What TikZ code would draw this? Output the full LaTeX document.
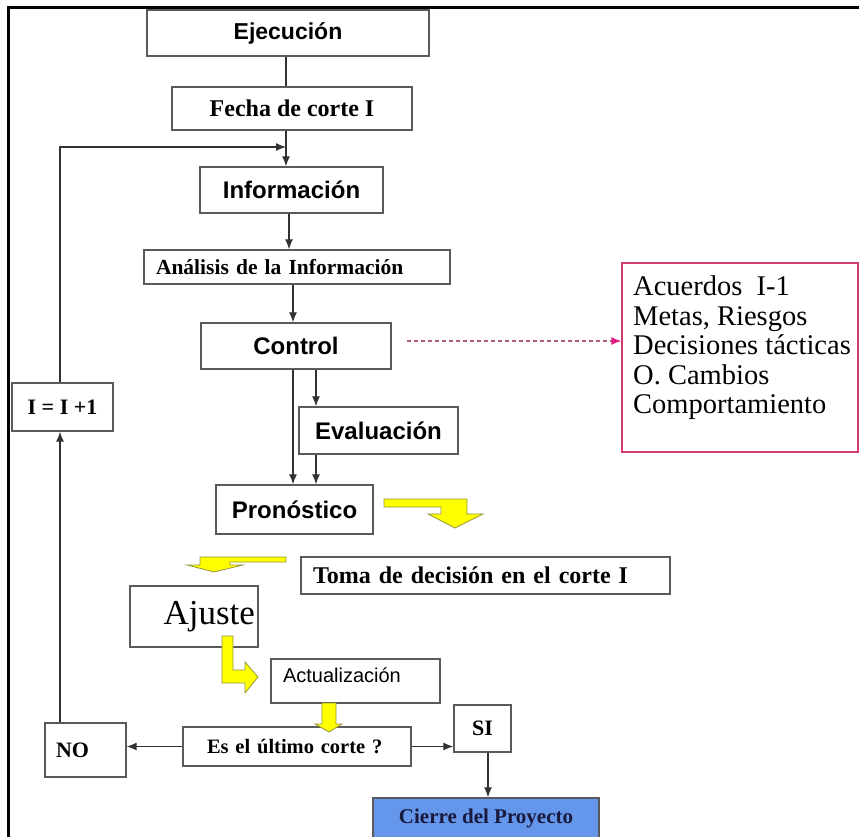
\documentclass[tikz,border=0pt]{standalone}
\usepackage{fontspec}
\setmainfont{Liberation Serif}
\newfontfamily\arialf{Liberation Sans}
\usetikzlibrary{arrows.meta}
\definecolor{boxline}{RGB}{90,90,90}
\definecolor{conncol}{RGB}{50,50,50}
\definecolor{pinkbox}{RGB}{210,60,110}
\definecolor{pinkdash}{RGB}{180,90,130}
\definecolor{pinkhead}{RGB}{230,30,130}
\definecolor{yel}{RGB}{255,255,0}
\definecolor{yelline}{RGB}{150,150,60}
\definecolor{cierreblue}{RGB}{100,150,235}
\definecolor{navytext}{RGB}{25,25,60}
\begin{document}
\begin{tikzpicture}[x=1pt,y=-1pt,
  bx/.style={draw=boxline, line width=1.4pt, rectangle, inner sep=0pt, fill=white},
  sansb/.style={font=\arialf\bfseries\fontsize{24}{26}\selectfont},
  conn/.style={draw=conncol, line width=1.3pt, -{Latex[length=10pt,width=8pt]}},
  plainline/.style={draw=conncol, line width=1.3pt},
  yarrow/.style={fill=yel, draw=yelline, line width=0.8pt, line join=miter},
  pinkarrow/.style={draw=pinkdash, line width=1.2pt, dash pattern=on 4pt off 3pt, -{Latex[length=10pt,width=8pt,color=pinkhead]}},
]
\useasboundingbox (0,0) rectangle (859,837);
\fill[white] (0,0) rectangle (859,837);
% frame
\draw[line width=3pt] (7,8) -- (859,8);
\draw[line width=3pt] (8,7) -- (8,837);

% x positions
\coordinate (x60) at (60,0);
\coordinate (x286) at (286,0);
\coordinate (x289) at (289,0);
\coordinate (x293) at (293,0);
\coordinate (x316) at (316,0);
\coordinate (x488) at (488,0);

% nodes
\node[bx, font=\arialf\bfseries\fontsize{23}{25}\selectfont, minimum width=282pt, minimum height=46pt] (ejec) at (288,33) {Ejecución};
\node[bx, font=\bfseries\fontsize{24}{26}\selectfont, minimum width=240pt, minimum height=43pt] (fecha) at (292,108.5) {Fecha de corte I};
\node[bx, sansb, minimum width=183pt, minimum height=46pt] (info) at (291.5,190) {Información};
\node[bx, font=\bfseries\fontsize{21.5}{23}\selectfont, minimum width=306pt, minimum height=34pt, text width=282pt, inner xsep=12pt, align=left] (anal) at (297,267) {Análisis de la Información};
\node[bx, sansb, minimum width=190pt, minimum height=46pt] (ctrl) at (296,346) {Control};
\node[bx, sansb, minimum width=159pt, minimum height=47pt] (eval) at (378.5,430.5) {Evaluación};
\node[bx, sansb, minimum width=157pt, minimum height=49pt] (prono) at (294.5,509.5) {Pronóstico};
\node[bx, font=\bfseries\fontsize{24}{26}\selectfont, minimum width=369pt, minimum height=37pt, text width=345pt, inner xsep=12pt, align=left] (toma) at (485.5,575.5) {Toma de decisión en el corte I};
\node[bx, font=\fontsize{35}{38}\selectfont, minimum width=128pt, minimum height=61pt, text width=122pt, inner xsep=3pt, align=right] (ajuste) at (194,616.5) {Ajuste};
\node[bx, font=\arialf\fontsize{20}{22}\selectfont, minimum width=169pt, minimum height=44pt, text width=145pt, inner xsep=12pt, align=left] (actual) at (355.5,681) {\raisebox{12pt}{Actualización}};
\node[bx, font=\bfseries\fontsize{22}{24}\selectfont, minimum width=101pt, minimum height=48pt] (iinc) at (62.5,407) {I = I +1};
\node[bx, font=\bfseries\fontsize{22}{24}\selectfont, minimum width=81pt, minimum height=54pt, text width=59pt, inner xsep=11pt, align=left] (no) at (85.5,750) {NO};
\node[bx, font=\bfseries\fontsize{20.5}{22}\selectfont, minimum width=228pt, minimum height=39pt, text width=180pt, inner xsep=22pt, align=left] (es) at (297,746.5) {Es el último corte ?};
\node[bx, font=\bfseries\fontsize{22}{24}\selectfont, minimum width=57pt, minimum height=47pt] (si) at (482.5,728.5) {SI};
\node[bx, fill=cierreblue, text=navytext, font=\bfseries\fontsize{21}{23}\selectfont, minimum width=226pt, minimum height=41pt] (cierre) at (486,818.5) {Cierre del Proyecto};
\node[draw=pinkbox, line width=1.4pt, rectangle, inner sep=0pt, minimum width=236pt, minimum height=189pt] (acu) at (740,357.5) {};
\node[anchor=north west, inner sep=0pt, align=left, font=\fontsize{28.5}{29.5}\selectfont] (acutext) at (633,276) {Acuerdos\ \ I-1\\Metas, Riesgos\\Decisiones tácticas\\O. Cambios\\Comportamiento};

% connectors
\draw[plainline] (ejec.south -| x286) -- (fecha.north -| x286);
\draw[conn] (fecha.south -| x286) -- (info.north -| x286);
\coordinate (merge) at (286,147);
\draw[conn] (iinc.north -| x60) |- (merge);
\draw[conn] (no.north -| x60) -- (iinc.south -| x60);
\draw[conn] (info.south -| x289) -- (anal.north -| x289);
\draw[conn] (anal.south -| x293) -- (ctrl.north -| x293);
\draw[conn] (ctrl.south -| x293) -- (prono.north -| x293);
\draw[conn] (ctrl.south -| x316) -- (eval.north -| x316);
\draw[conn] (eval.south -| x316) -- (prono.north -| x316);
\coordinate (dashstart) at (407,341);
\draw[pinkarrow] (dashstart) -- (dashstart -| acu.west);
\draw[conn] (es.west) -- (es.west -| no.east);
\draw[conn] (es.east) -- (es.east -| si.west);
\draw[conn] (si.south -| x488) -- (cierre.north -| x488);

% yellow block arrows
\filldraw[yarrow] (384,499) -- (467,499) -- (467,514) -- (483,514) -- (455,528) -- (428,514) -- (441,514) -- (441,507) -- (384,507) -- cycle;
\filldraw[yarrow] (286,557) -- (286,562) -- (230,562) -- (230,565) -- (243,565) -- (214,572) -- (187,565) -- (200,565) -- (200,557) -- cycle;
\filldraw[yarrow] (222,636) -- (233,636) -- (233,670) -- (245,670) -- (245,662) -- (258,677) -- (245,693) -- (245,683) -- (222,683) -- cycle;
\filldraw[yarrow] (322,703) -- (336,703) -- (336,724) -- (342,724) -- (329,732) -- (315,724) -- (322,724) -- cycle;
\end{tikzpicture}
\end{document}
